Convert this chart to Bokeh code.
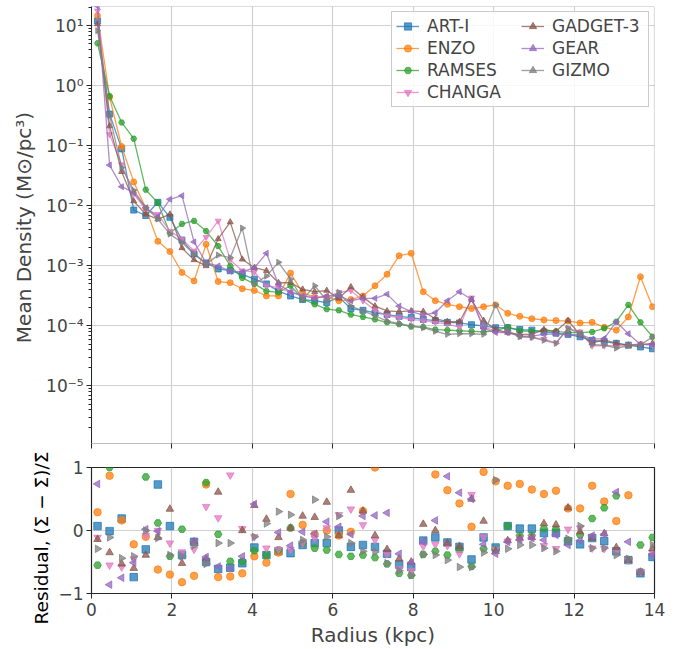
import math
import numpy as np
from bokeh.plotting import figure
from bokeh.layouts import column
from bokeh.models import (Range1d, FixedTicker, CustomJSTickFormatter, BoxAnnotation,
                          Legend, LegendItem, Title)
from bokeh.embed import file_html
from bokeh.resources import INLINE

# ---------------- data ----------------
radius = [0.15, 0.45, 0.75, 1.05, 1.35, 1.65, 1.95, 2.25, 2.55, 2.85,
          3.15, 3.45, 3.75, 4.05, 4.35, 4.65, 4.95, 5.25, 5.55, 5.85,
          6.15, 6.45, 6.75, 7.05, 7.35, 7.65, 7.95, 8.25, 8.55, 8.85,
          9.15, 9.45, 9.75, 10.05, 10.35, 10.65, 10.95, 11.25, 11.55, 11.85,
          12.15, 12.45, 12.75, 13.05, 13.35, 13.65, 13.95]

codes = ["ART-I", "ENZO", "RAMSES", "CHANGA", "GADGET-3", "GEAR", "GIZMO"]

# log10 of mean density (Msun/pc^3)
art_log_rho = [1.08, -0.47, -1.05, -2.07, -2.16, -1.94, -2.19, -2.57, -2.80, -2.95,
               -3.05, -3.08, -3.14, -3.22, -3.30, -3.42, -3.50, -3.56, -3.58, -3.61,
               -3.52, -3.71, -3.74, -3.78, -3.81, -3.84, -3.86, -3.89, -3.91, -3.94,
               -3.95, -3.98, -4.00, -4.03, -4.03, -4.06, -4.07, -4.10, -4.12, -4.14,
               -4.18, -4.24, -4.26, -4.29, -4.32, -4.35, -4.38]
enzo_log_rho = [1.17, -0.19, -1.01, -1.60, -2.04, -2.59, -2.76, -3.11, -3.25, -2.64,
                -3.26, -3.28, -3.38, -3.41, -3.50, -3.50, -3.12, -3.45, -3.52, -3.52,
                -3.58, -3.56, -3.50, -3.33, -3.14, -2.83, -2.79, -3.43, -3.58, -3.64,
                -3.68, -3.71, -3.68, -3.65, -3.79, -3.84, -3.88, -3.90, -3.91, -3.92,
                -3.95, -3.94, -4.02, -4.07, -3.85, -3.18, -3.68]
ramses_log_rho = [0.71, -0.17, -0.61, -0.88, -1.73, -1.95, -2.45, -2.30, -2.25, -2.42,
                  -2.67, -3.00, -3.20, -3.30, -3.42, -3.44, -3.33, -3.55, -3.64, -3.72,
                  -3.74, -3.81, -3.85, -3.89, -3.94, -3.97, -4.01, -4.02, -4.06, -4.07,
                  -4.08, -4.09, -4.10, -4.08, -4.02, -4.08, -4.09, -4.08, -4.09, -4.11,
                  -4.11, -4.10, -4.04, -3.93, -3.65, -3.94, -4.18]
changa_log_rho = [1.25, -0.81, -1.31, -1.80, -2.06, -2.14, -2.42, -2.55, -2.75, -2.52,
                  -2.25, -2.90, -3.08, -3.10, -3.33, -3.36, -3.44, -3.50, -3.52, -3.52,
                  -3.44, -3.41, -3.58, -3.74, -3.83, -3.86, -3.89, -3.91, -3.94, -3.97,
                  -4.02, -3.53, -4.02, -4.08, -4.11, -4.17, -4.19, -4.22, -4.28, -4.04,
                  -4.10, -4.33, -4.33, -4.33, -4.32, -4.30, -4.32]
gadget_log_rho = [1.03, -0.67, -1.43, -1.92, -2.14, -2.22, -2.14, -2.70, -2.90, -3.00,
                  -2.55, -2.27, -2.89, -3.03, -3.08, -3.28, -3.28, -3.39, -3.43, -3.41,
                  -3.54, -3.35, -3.52, -3.67, -3.75, -3.76, -3.75, -3.76, -3.88, -3.93,
                  -3.93, -3.56, -3.91, -4.06, -4.11, -4.14, -4.14, -4.06, -4.09, -3.91,
                  -4.15, -4.28, -4.23, -4.29, -4.32, -4.31, -4.29]
gear_log_rho = [1.33, -1.32, -1.68, -1.78, -2.03, -2.18, -1.89, -1.83, -2.60, -2.95,
                -3.00, -3.09, -3.10, -3.03, -2.79, -3.31, -3.43, -3.50, -3.54, -3.50,
                -3.50, -3.58, -3.54, -3.54, -3.47, -3.67, -3.76, -3.82, -3.78, -3.58,
                -3.43, -3.56, -4.04, -4.11, -4.11, -4.17, -4.17, -4.14, -4.13, -4.15,
                -4.14, -4.22, -4.21, -3.93, -4.13, -4.31, -4.31]
gizmo_log_rho = [0.92, -0.50, -1.36, -1.74, -2.03, -2.22, -2.47, -2.61, -2.80, -2.97,
                 -2.82, -2.86, -2.37, -3.30, -3.17, -2.94, -3.22, -3.56, -3.33, -3.58,
                 -3.44, -3.67, -3.75, -3.83, -3.92, -3.96, -4.00, -4.03, -4.09, -4.14,
                 -4.13, -4.13, -4.14, -3.65, -4.08, -4.18, -4.19, -4.24, -4.29, -4.04,
                 -4.13, -4.31, -4.32, -4.37, -4.33, -4.32, -4.18]

# residuals (None = outside the plotted -1..1 window)
art_res = [0.07, -0.01, 0.19, -0.74, -0.30, 0.73, 0.07, -0.39, -0.18, -0.50,
           -0.61, -0.59, -0.52, -0.27, -0.39, -0.33, -0.36, -0.23, -0.20, -0.20,
           0.00, -0.26, -0.23, -0.26, -0.37, -0.54, -0.58, -0.16, -0.11, -0.19,
           -0.26, -0.46, -0.11, -0.27, 0.07, 0.03, 0.03, -0.04, -0.04, -0.17,
           -0.22, -0.12, -0.17, -0.33, -0.47, -0.68, -0.42]
enzo_res = [0.29, 0.87, 0.16, -0.22, -0.10, -0.62, -0.70, -0.82, -0.72, 0.73,
            -0.74, -0.73, -0.68, -0.41, -0.51, -0.35, 0.58, 0.09, -0.06, 0.00,
            -0.08, -0.02, 0.31, 1.00, None, None, None, None, 0.89, 0.64,
            0.43, 0.06, 0.93, 0.78, 0.71, 0.74, 0.65, 0.58, 0.63, 0.35,
            0.35, 0.71, 0.46, 0.15, 0.56, None, None]
ramses_res = [-0.55, 1.00, None, None, 0.85, 0.12, -0.41, 0.02, None, 0.76,
              -0.06, -0.49, -0.49, -0.32, -0.39, -0.31, 0.04, -0.20, -0.28, -0.31,
              -0.38, -0.41, -0.39, -0.43, -0.53, -0.68, -0.71, -0.38, -0.33, -0.39,
              -0.30, -0.57, -0.29, -0.30, 0.07, -0.08, -0.08, 0.03, 0.02, -0.16,
              -0.07, 0.19, 0.36, 0.55, None, -0.23, -0.11]
changa_res = [-0.11, -0.55, -0.58, -0.45, -0.08, 0.00, -0.20, -0.34, -0.30, 0.38,
              0.20, 0.88, 0.03, -0.10, -0.28, -0.30, -0.30, -0.20, -0.12, 0.04,
              0.25, 0.34, 0.09, -0.15, -0.37, -0.61, -0.64, -0.25, -0.22, -0.24,
              -0.37, 0.57, -0.10, -0.30, -0.17, -0.13, -0.11, -0.24, -0.29, 0.02,
              0.04, -0.28, -0.29, -0.33, -0.47, -0.65, -0.35]
gadget_res = [-0.14, -0.35, -0.53, -0.60, -0.39, -0.11, 0.34, -0.52, -0.18, -0.45,
              0.61, None, 0.00, 0.40, 0.18, -0.11, 0.04, 0.23, 0.21, 0.45,
              -0.08, 0.64, 0.31, -0.08, -0.30, -0.45, -0.50, 0.10, 0.00, -0.20,
              -0.25, 0.50, 0.15, -0.33, -0.16, -0.12, -0.11, 0.11, 0.09, 0.36,
              -0.02, -0.12, -0.05, -0.27, -0.47, -0.66, -0.29]
gear_res = [0.74, -0.86, -0.75, -0.51, 0.02, -0.01, None, None, -0.18, -0.42,
            -0.57, -0.60, -0.41, 0.42, None, -0.03, -0.24, -0.02, -0.05, 0.14,
            0.06, -0.06, 0.23, 0.24, 0.28, -0.37, -0.51, -0.18, 0.16, 0.86,
            0.60, 0.50, -0.22, -0.37, -0.18, -0.15, -0.12, -0.15, -0.07, -0.23,
            -0.16, -0.08, -0.06, 0.61, -0.18, -0.66, -0.39]
gizmo_res = [-0.29, -0.11, -0.44, -0.41, 0.00, -0.12, -0.39, -0.41, -0.24, -0.53,
             -0.20, -0.20, None, -0.10, 0.11, 0.30, 0.25, -0.15, 0.49, -0.10,
             0.23, -0.20, -0.33, -0.34, -0.52, -0.64, -0.71, -0.38, -0.39, -0.47,
             -0.58, -0.58, -0.35, 0.80, -0.29, -0.23, -0.23, -0.28, -0.33, -0.13,
             0.07, -0.28, -0.28, -0.39, -0.45, -0.66, -0.23]

x_ticks = [0, 2, 4, 6, 8, 10, 12, 14]
rho_ticks = [1e-5, 1e-4, 1e-3, 1e-2, 1e-1, 1.0, 10.0]
res_ticks = [-1, 0, 1]

log_rho = [art_log_rho, enzo_log_rho, ramses_log_rho, changa_log_rho,
           gadget_log_rho, gear_log_rho, gizmo_log_rho]
residuals = [art_res, enzo_res, ramses_res, changa_res, gadget_res, gear_res, gizmo_res]

# ---------------- style ----------------
colors = ["#1f77b4", "#ff7f0e", "#2ca02c", "#e377c2", "#8c564b", "#9467bd", "#7f7f7f"]
markers = ["square", "circle", "hex", "inverted_triangle", "triangle", "triangle", "triangle"]
angles = [0, 0, 0, 0, 0, math.pi / 2, -math.pi / 2]
FONT = "DejaVu Sans"
GRID = "#d0d0d0"
SPINE = "#262626"

W = 694
BL, BR = 91, 40
TOP_PX = 437          # upper panel height
TICK_PX = 5           # tick strip below the upper panel
H1 = 6 + TOP_PX + TICK_PX + 1
H2 = 649 - H1

rho_lim = (1.1e-6, 21.0)
lg_lo, lg_hi = math.log10(rho_lim[0]), math.log10(rho_lim[1])
lg_per_px = (lg_hi - lg_lo) / TOP_PX
rho_range = Range1d(10 ** (lg_lo - TICK_PX * lg_per_px), rho_lim[1])
x_range = Range1d(0, 14)

# ================= upper panel =================
p1 = figure(width=W, height=H1, x_range=x_range, y_range=rho_range, y_axis_type="log",
            min_border_left=BL, min_border_right=BR, min_border_top=6, min_border_bottom=1,
            toolbar_location=None, output_backend="svg", outline_line_color=None)

sup_code = """
const e = Math.round(Math.log10(tick));
const sup = {"-": "\u207b", "0": "\u2070", "1": "\u00b9", "2": "\u00b2", "3": "\u00b3",
             "4": "\u2074", "5": "\u2075", "6": "\u2076", "7": "\u2077", "8": "\u2078", "9": "\u2079"};
let s = "10";
for (const c of String(e)) { s += sup[c]; }
return s;
"""
minor_rho = [k * 10.0 ** e for e in range(-6, 2) for k in range(2, 10)]
ya = p1.yaxis[0]
ya.ticker = FixedTicker(ticks=rho_ticks, minor_ticks=minor_rho)
ya.formatter = CustomJSTickFormatter(code=sup_code)
ya.bounds = rho_lim
ya.axis_label = "Mean Density (M\u2299/pc\u00b3)"
ya.axis_label_text_font = FONT
ya.axis_label_text_font_size = "20px"
ya.axis_label_text_font_style = "normal"
ya.axis_label_standoff = 7
ya.major_label_text_font = FONT
ya.major_label_text_font_size = "17px"
ya.major_label_standoff = 3
ya.major_tick_in = 0
ya.major_tick_out = 5
ya.minor_tick_in = 0
ya.minor_tick_out = 3
ya.axis_line_color = SPINE
ya.major_tick_line_color = SPINE
ya.minor_tick_line_color = SPINE

xa1 = p1.xaxis[0]
xa1.ticker = FixedTicker(ticks=x_ticks)
xa1.formatter = CustomJSTickFormatter(code="return '';")
xa1.major_label_text_font_size = "1px"
xa1.major_label_standoff = 0
xa1.major_tick_in = TICK_PX
xa1.major_tick_out = 0
xa1.minor_tick_line_color = None
xa1.axis_line_color = None
xa1.major_tick_line_color = SPINE
xa1.level = "overlay"

p1.xgrid.grid_line_color = GRID
p1.xgrid.grid_line_width = 1.2
p1.ygrid.grid_line_color = GRID
p1.ygrid.grid_line_width = 1.2

items = []
for i in range(7):
    rho = [10 ** v for v in log_rho[i]]
    lr = p1.line(radius, rho, line_color=colors[i], line_width=1.3, line_alpha=0.75)
    sr = p1.scatter(radius, rho, marker=markers[i], angle=angles[i], size=6,
                    fill_color=colors[i], line_color=colors[i], fill_alpha=0.75,
                    line_alpha=0.75)
    items.append(LegendItem(label=codes[i], renderers=[lr, sr]))

# strip under the panel (holds only the tick marks) and panel frame
p1.add_layout(BoxAnnotation(left=0, right=14, bottom=rho_range.start, top=rho_lim[0],
                            fill_color="white", fill_alpha=1.0, line_alpha=0,
                            level="annotation"))
p1.add_layout(BoxAnnotation(left=0, right=14, bottom=rho_lim[0], top=rho_lim[1],
                            fill_alpha=0, line_color=SPINE, line_width=1.2))

legend = Legend(items=items, location="top_right", ncols=2,
                label_text_font=FONT, label_text_font_size="17px",
                glyph_width=23, glyph_height=18, label_height=18, label_standoff=8,
                label_width=92, spacing=2, padding=4, margin=5,
                border_line_color="#cccccc", border_line_alpha=1.0,
                background_fill_color="white", background_fill_alpha=0.85)
p1.add_layout(legend)

# ================= residual panel =================
p2 = figure(width=W, height=H2, x_range=x_range, y_range=Range1d(-1, 1),
            min_border_left=BL, min_border_right=BR, min_border_top=467 - H1,
            min_border_bottom=52, toolbar_location=None, output_backend="svg",
            outline_line_color=SPINE, outline_line_width=1.2)

xa = p2.xaxis[0]
xa.ticker = FixedTicker(ticks=x_ticks)
xa.axis_label = "Radius (kpc)"
xa.axis_label_text_font = FONT
xa.axis_label_text_font_size = "20px"
xa.axis_label_text_font_style = "normal"
xa.axis_label_standoff = 4
xa.major_label_text_font = FONT
xa.major_label_text_font_size = "17px"
xa.major_label_standoff = 4
xa.major_tick_in = 0
xa.major_tick_out = 5
xa.minor_tick_line_color = None
xa.axis_line_color = SPINE
xa.major_tick_line_color = SPINE

ry = p2.yaxis[0]
ry.ticker = FixedTicker(ticks=res_ticks, minor_ticks=[])
ry.major_label_overrides = {-1: "\u22121", 0: "0", 1: "1"}
ry.major_label_text_font = FONT
ry.major_label_text_font_size = "17px"
ry.major_label_standoff = 3
ry.major_tick_in = 0
ry.major_tick_out = 5
ry.minor_tick_line_color = None
ry.axis_line_color = SPINE
ry.major_tick_line_color = SPINE

p2.xgrid.grid_line_color = GRID
p2.xgrid.grid_line_width = 1.2
p2.ygrid.grid_line_color = GRID
p2.ygrid.grid_line_width = 1.2

for i in range(7):
    r = np.array([np.nan if v is None else v for v in residuals[i]], dtype=float)
    p2.scatter(radius, r, marker=markers[i], angle=angles[i], size=7.5,
               fill_color=colors[i], line_color=colors[i], fill_alpha=0.75,
               line_alpha=0.75)

p2.add_layout(Title(text="Residual, (\u03a3 \u2212 \u03a3\u0304)/\u03a3\u0304",
                    align="left", offset=-31, standoff=8,
                    text_font=FONT, text_font_size="18.5px", text_font_style="normal",
                    text_color="black"), "left")

layout = column(p1, p2, spacing=0)
open("out.html", "w", encoding="utf-8").write(file_html(layout, INLINE))
